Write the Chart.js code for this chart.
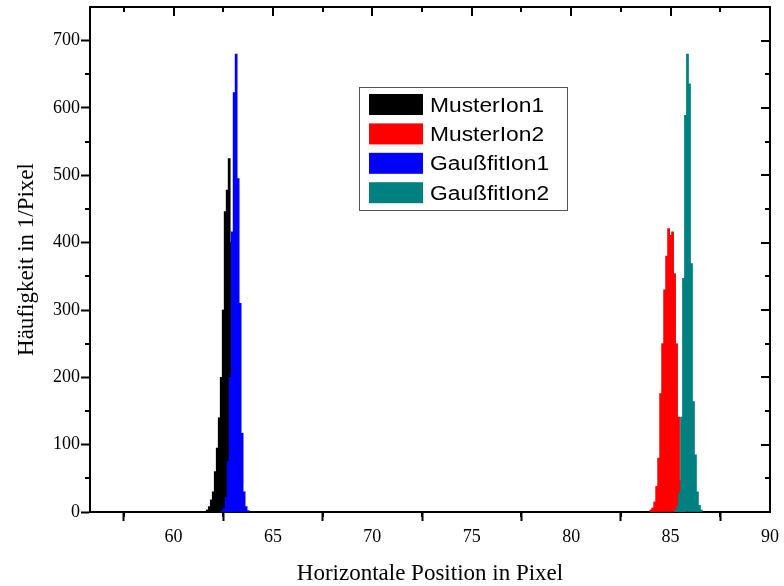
<!DOCTYPE html>
<html>
<head>
<meta charset="utf-8">
<script src="https://cdn.jsdelivr.net/npm/chart.js@4.4.0/dist/chart.umd.min.js"></script>
<style>
  html, body { margin: 0; padding: 0; background: #fff; }
  #wrap { width: 784px; height: 586px; }
</style>
</head>
<body>
<div id="wrap"><canvas id="histChart" width="784" height="586"></canvas></div>
<script>
// bin centres (pixel position) and counts per bin
const musterBins1 = [61.7, 61.8, 61.9, 62.0, 62.1, 62.2, 62.3, 62.4, 62.5, 62.6, 62.7, 62.8, 62.9, 63.0, 63.1, 63.2, 63.3, 63.4, 63.5];
const musterIon1  = [3, 8, 18, 30, 60, 95, 140, 200, 300, 446, 478, 525, 400, 330, 220, 130, 60, 20, 6];

const musterBins2 = [84.0, 84.1, 84.2, 84.3, 84.4, 84.5, 84.6, 84.7, 84.8, 84.9, 85.0, 85.1, 85.2, 85.3, 85.4, 85.5, 85.6, 85.7];
const musterIon2  = [3, 6, 15, 38, 80, 176, 250, 330, 380, 421, 411, 416, 354, 250, 141, 47, 12, 4];

const gaussBins1 = [62.45, 62.55, 62.65, 62.75, 62.85, 62.95, 63.05, 63.15, 63.25, 63.35, 63.45, 63.55, 63.65, 63.75];
const gaussIon1  = [2, 5, 22, 75, 200, 416, 623, 680, 495, 310, 117, 30, 8, 2];

const gaussBins2 = [85.25, 85.35, 85.45, 85.55, 85.65, 85.75, 85.85, 85.95, 86.05, 86.15, 86.25, 86.35, 86.45, 86.55];
const gaussIon2  = [3, 8, 28, 141, 347, 589, 680, 636, 369, 164, 85, 30, 10, 3];

const seriesNames = ["MusterIon1", "MusterIon2", "GaußfitIon1", "GaußfitIon2"];
const seriesColors = ["#000000", "#ff0000", "#0000ff", "#008080"];

const xRange = [55.8, 90];
const yRange = [0, 750];

function toPoints(bins, counts) {
  return bins.map((x, i) => ({ x: x, y: counts[i] }));
}

// outward minor ticks + top/right frame with inward ticks
const frameTicks = {
  id: "frameTicks",
  afterDraw(chart) {
    const { ctx, chartArea: a, scales: { x, y } } = chart;
    ctx.save();
    ctx.strokeStyle = "#000";
    ctx.lineWidth = 2;
    ctx.beginPath();
    ctx.moveTo(a.left, a.top);
    ctx.lineTo(a.right, a.top);
    ctx.lineTo(a.right, a.bottom);
    ctx.stroke();

    ctx.beginPath();
    for (let k = 23; k <= 36; k++) {
      const v = k * 2.5;
      const px = Math.round(x.getPixelForValue(v));
      const major = k % 2 === 0;
      if (!major) {
        ctx.moveTo(px, a.bottom);
        ctx.lineTo(px, a.bottom + 5);
      }
      ctx.moveTo(px, a.top);
      ctx.lineTo(px, a.top + (major ? 9 : 5));
    }
    for (let k = 0; k <= 14; k++) {
      const v = k * 50;
      const py = Math.round(y.getPixelForValue(v));
      const major = k % 2 === 0;
      if (!major) {
        ctx.moveTo(a.left, py);
        ctx.lineTo(a.left - 5, py);
      }
      ctx.moveTo(a.right, py);
      ctx.lineTo(a.right - (major ? 9 : 5), py);
    }
    ctx.stroke();
    ctx.restore();
  }
};

// boxed legend inside the plot
const boxLegend = {
  id: "boxLegend",
  afterDraw(chart) {
    const ctx = chart.ctx;
    const left = 359, top = 87, w = 208, h = 123;
    ctx.save();
    ctx.fillStyle = "#fff";
    ctx.fillRect(left, top, w, h);
    ctx.strokeStyle = "#555";
    ctx.lineWidth = 1;
    ctx.strokeRect(left + 0.5, top + 0.5, w, h);
    chart.data.datasets.forEach((ds, i) => {
      const rowTop = top + 7 + i * 29.4;
      ctx.fillStyle = ds.backgroundColor;
      ctx.fillRect(left + 10, rowTop, 54, 21);
      ctx.save();
      ctx.translate(left + 71, rowTop + 11);
      ctx.scale(1.14, 1);
      ctx.fillStyle = "#000";
      ctx.font = "20px 'Liberation Sans', Arial, sans-serif";
      ctx.textBaseline = "middle";
      ctx.fillText(ds.label, 0, 1);
      ctx.restore();
    });
    ctx.restore();
  }
};

const serif = "'Liberation Serif', 'Times New Roman', serif";

new Chart(document.getElementById("histChart"), {
  type: "bar",
  data: {
    datasets: [
      { label: seriesNames[0], data: toPoints(musterBins1, musterIon1), backgroundColor: seriesColors[0], order: 1 },
      { label: seriesNames[1], data: toPoints(musterBins2, musterIon2), backgroundColor: seriesColors[1], order: 1 },
      { label: seriesNames[2], data: toPoints(gaussBins1, gaussIon1), backgroundColor: seriesColors[2], order: 0 },
      { label: seriesNames[3], data: toPoints(gaussBins2, gaussIon2), backgroundColor: seriesColors[3], order: 0 }
    ].map(ds => Object.assign(ds, { borderWidth: 0, barThickness: 2.1, grouped: false }))
  },
  options: {
    responsive: false,
    animation: false,
    layout: { padding: { top: 7, right: 14, left: 0, bottom: 0 } },
    plugins: {
      legend: { display: false },
      tooltip: { enabled: false }
    },
    scales: {
      x: {
        type: "linear",
        min: xRange[0],
        max: xRange[1],
        offset: false,
        afterFit: (s) => { s.height = 74; s.paddingLeft = 0; s.paddingRight = 0; },
        grid: { display: true, drawOnChartArea: false, drawTicks: true, tickLength: 9, tickWidth: 2, tickColor: "#000" },
        border: { display: true, color: "#000", width: 2 },
        ticks: {
          stepSize: 5,
          includeBounds: false,
          maxRotation: 0,
          padding: 5,
          color: "#000",
          font: { family: serif, size: 18 }
        },
        title: {
          display: true,
          text: "Horizontale Position in Pixel",
          color: "#000",
          font: { family: serif, size: 23, lineHeight: 1 },
          padding: { top: 0, bottom: 0.5 }
        }
      },
      y: {
        min: yRange[0],
        max: yRange[1],
        afterFit: (s) => { s.width = 90; s.paddingTop = 0; s.paddingBottom = 0; },
        grid: { display: true, drawOnChartArea: false, drawTicks: true, tickLength: 9, tickWidth: 2, tickColor: "#000" },
        border: { display: true, color: "#000", width: 2 },
        ticks: {
          stepSize: 100,
          includeBounds: false,
          padding: 1,
          color: "#000",
          font: { family: serif, size: 18 }
        },
        title: {
          display: true,
          text: "Häufigkeit in 1/Pixel",
          color: "#000",
          font: { family: serif, size: 23, lineHeight: 1 },
          padding: { top: 15.5, bottom: 0 }
        }
      }
    }
  },
  plugins: [frameTicks, boxLegend]
});
</script>
</body>
</html>
